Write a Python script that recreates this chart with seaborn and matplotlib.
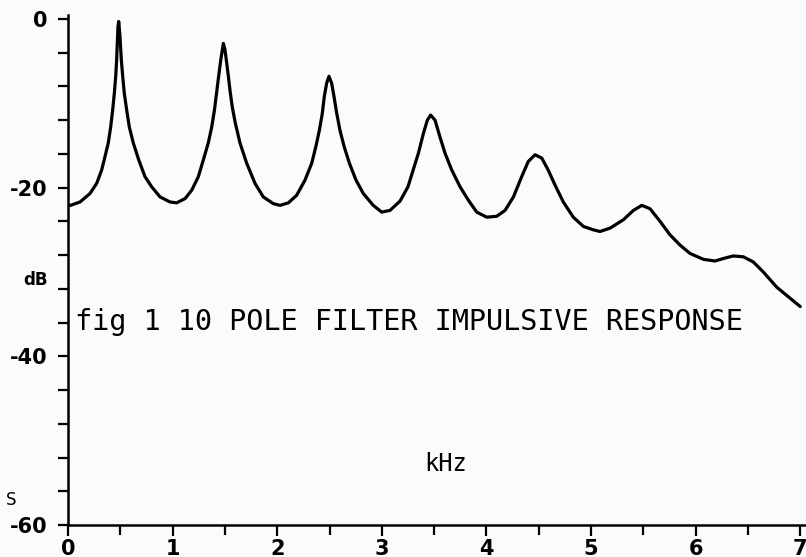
import matplotlib
matplotlib.use("Agg")
import matplotlib.pyplot as plt
import seaborn as sns
import pandas as pd
from matplotlib.ticker import MultipleLocator

# values (kHz, dB)
freq_khz = [0.000, 0.115, 0.210, 0.274, 0.322, 0.354, 0.385, 0.408, 0.427, 0.443,
            0.456, 0.465, 0.471, 0.478, 0.485, 0.497, 0.510, 0.523, 0.538, 0.561,
            0.586, 0.624, 0.676, 0.736, 0.800, 0.880, 0.975, 1.039, 1.119, 1.183,
            1.246, 1.294, 1.341, 1.374, 1.400, 1.420, 1.440, 1.460, 1.485, 1.500,
            1.515, 1.533, 1.550, 1.570, 1.597, 1.644, 1.708, 1.788, 1.867, 1.963,
            2.027, 2.107, 2.186, 2.266, 2.330, 2.370, 2.403, 2.431, 2.450, 2.473,
            2.495, 2.520, 2.543, 2.569, 2.600, 2.639, 2.690, 2.753, 2.823, 2.918,
            2.999, 3.078, 3.174, 3.250, 3.300, 3.350, 3.397, 3.435, 3.467, 3.509,
            3.556, 3.604, 3.668, 3.748, 3.828, 3.907, 4.003, 4.098, 4.178, 4.258,
            4.337, 4.400, 4.465, 4.529, 4.590, 4.656, 4.735, 4.830, 4.927, 5.022,
            5.086, 5.182, 5.310, 5.405, 5.485, 5.564, 5.660, 5.755, 5.850, 5.946,
            6.074, 6.185, 6.265, 6.360, 6.456, 6.550, 6.647, 6.775, 6.902, 7.000]
level_db = [-22.2, -21.7, -20.7, -19.5, -17.9, -16.3, -14.7, -12.8, -10.8, -8.8,
            -6.8, -4.9, -2.9, -0.9, -0.3, -2.1, -4.9, -6.8, -8.8, -10.8,
            -12.8, -14.7, -16.7, -18.7, -19.9, -21.1, -21.7, -21.8, -21.3, -20.3,
            -18.7, -16.7, -14.7, -12.8, -10.8, -8.8, -6.8, -4.9, -2.9, -3.6,
            -5.0, -6.8, -8.6, -10.4, -12.2, -14.7, -17.1, -19.5, -21.1, -21.9,
            -22.1, -21.8, -20.9, -19.1, -17.1, -15.1, -13.2, -11.2, -9.2, -7.6,
            -6.8, -7.6, -9.2, -11.2, -13.2, -15.1, -17.1, -19.1, -20.7, -22.1,
            -22.9, -22.7, -21.6, -19.9, -17.9, -15.9, -13.6, -12.0, -11.4, -12.0,
            -14.0, -15.9, -17.9, -19.9, -21.5, -22.9, -23.5, -23.4, -22.7, -21.1,
            -18.7, -16.9, -16.1, -16.5, -17.9, -19.7, -21.7, -23.5, -24.6, -25.0,
            -25.2, -24.8, -23.8, -22.7, -22.1, -22.5, -24.0, -25.6, -26.8, -27.8,
            -28.5, -28.7, -28.4, -28.1, -28.2, -28.8, -30.0, -31.8, -33.1, -34.1]

x_ticks = [0, 1, 2, 3, 4, 5, 6, 7]
y_ticks = [0, -20, -40, -60]
title_text = "fig 1 10 POLE FILTER IMPULSIVE RESPONSE"

df = pd.DataFrame({"kHz": freq_khz, "dB": level_db})

sns.set_style("ticks")
plt.rcParams["font.family"] = ["DejaVu Sans"]
plt.rcParams["text.color"] = "black"
plt.rcParams["xtick.color"] = "black"
plt.rcParams["ytick.color"] = "black"

fig = plt.figure(figsize=(8.06, 5.57), dpi=100)
fig.patch.set_facecolor("#fbfbfb")
ax = fig.add_axes([68 / 806, 32 / 557, 738 / 806, 510 / 557])
ax.set_facecolor("#fbfbfb")

sns.lineplot(data=df, x="kHz", y="dB", ax=ax, color="black", linewidth=2.3,
             estimator=None, sort=False)

ax.set_xlim(0, 7.055)
ax.set_ylim(-60, 0.47)
sns.despine(ax=ax)
for side in ["left", "bottom"]:
    ax.spines[side].set_linewidth(1.8)
    ax.spines[side].set_color("black")

ax.set_xticks(x_ticks)
ax.set_xticklabels([str(t) for t in x_ticks])
ax.xaxis.set_minor_locator(MultipleLocator(0.5))
ax.set_yticks(y_ticks)
ax.set_yticklabels([str(t) for t in y_ticks])
ax.yaxis.set_minor_locator(MultipleLocator(4))

ax.tick_params(axis="both", which="both", direction="out", width=1.6, color="black",
               labelcolor="black")
ax.tick_params(axis="x", which="major", length=8, pad=2)
ax.tick_params(axis="x", which="minor", length=7)
ax.tick_params(axis="y", which="both", length=7, pad=8)
for lab in ax.get_xticklabels() + ax.get_yticklabels():
    lab.set_fontweight("bold")
    lab.set_fontsize(15)
ax.set_xlabel("")
ax.set_ylabel("")

ax.text(75 / 806, 1 - 322 / 557, title_text, transform=fig.transFigure,
        family="DejaVu Sans Mono", fontsize=20.5, va="center", ha="left", color="black")
ax.text(446 / 806, 1 - 464 / 557, "kHz", transform=fig.transFigure,
        family="DejaVu Sans Mono", fontsize=17, va="center", ha="center", color="black")
ax.text(36 / 806, 1 - 280 / 557, "dB", transform=fig.transFigure,
        fontsize=12, fontweight="bold", va="center", ha="center", color="black")
ax.text(11 / 806, 1 - 500 / 557, "S", transform=fig.transFigure,
        fontsize=12, va="center", ha="center", color="black")

fig.savefig("out.png", dpi=100, facecolor=fig.get_facecolor())
